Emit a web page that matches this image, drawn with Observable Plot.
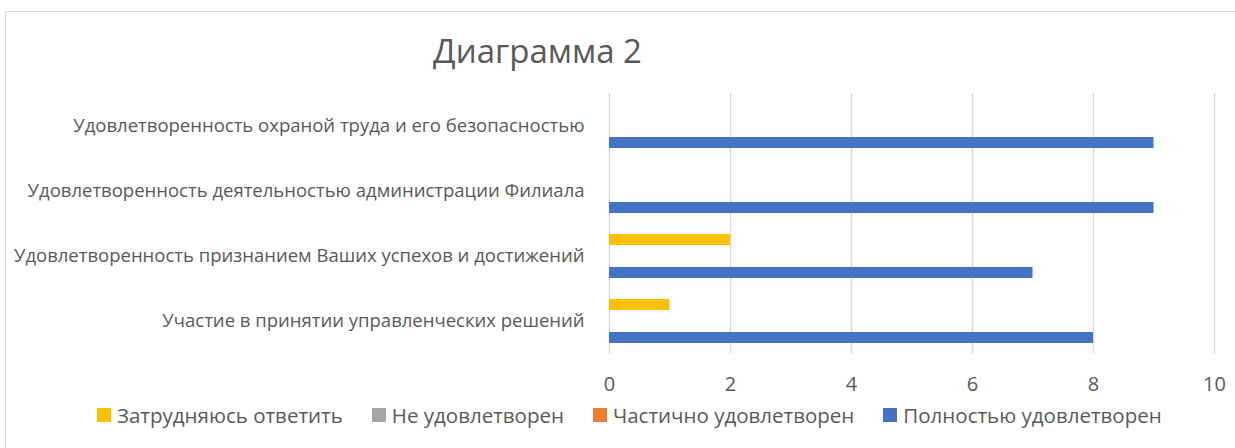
<!DOCTYPE html>
<html>
<head>
<meta charset="utf-8">
<script src="https://cdn.jsdelivr.net/npm/d3@7"></script>
<script src="https://cdn.jsdelivr.net/npm/@observablehq/plot@0.6"></script>
<style>
  html, body { margin: 0; padding: 0; background: #fff; }
  #wrap { position: relative; width: 1235px; height: 448px; overflow: hidden; font-family: "Open Sans", sans-serif; color: #595959; }
  #frame { position: absolute; left: 5px; top: 11px; width: 1250px; height: 460px; border: 1px solid #d9d9d9; box-sizing: border-box; }
  #title { position: absolute; left: 0; width: 1075px; top: 28px; text-align: center; font-size: 33px; line-height: 46px; color: #595959; }
  #chart { position: absolute; left: 0; top: 80px; }
  #legend { position: absolute; left: 97px; top: 400px; display: flex; align-items: center; font-size: 20.5px; line-height: 30px; color: #595959; white-space: nowrap; }
  .item { display: flex; align-items: center; margin-right: 29px; }
  .sw { width: 14px; height: 14px; margin-right: 6px; }
</style>
</head>
<body>
<div id="wrap">
  <div id="frame"></div>
  <div id="title">Диаграмма 2</div>
  <div id="chart"></div>
  <div id="legend"></div>
</div>
<script>
const categories = [
  "Удовлетворенность охраной труда и его безопасностью",
  "Удовлетворенность деятельностью администрации Филиала",
  "Удовлетворенность признанием Ваших успехов и достижений",
  "Участие в принятии управленческих решений"
];
const seriesNames = ["Затрудняюсь ответить", "Не удовлетворен", "Частично удовлетворен", "Полностью удовлетворен"];
const seriesColors = ["#FFC000", "#A5A5A5", "#ED7D31", "#4472C4"];
const hardToSay = [0, 0, 2, 1];
const notSatisfied = [0, 0, 0, 0];
const partlySatisfied = [0, 0, 0, 0];
const fullySatisfied = [9, 9, 7, 8];
const xTicks = [0, 2, 4, 6, 8, 10];

const seriesValues = [hardToSay, notSatisfied, partlySatisfied, fullySatisfied];
const data = [];
categories.forEach((c, i) => {
  seriesNames.forEach((s, j) => {
    data.push({category: c, series: s, value: seriesValues[j][i]});
  });
});

const chart = Plot.plot({
  width: 1235,
  height: 318,
  marginLeft: 609,
  marginRight: 21,
  marginTop: 13,
  marginBottom: 45,
  style: {fontFamily: "Open Sans, sans-serif", color: "#595959", background: "transparent"},
  x: {domain: [0, 10]},
  fy: {domain: categories, padding: 0},
  y: {domain: seriesNames, paddingInner: 0, paddingOuter: 0.9},
  color: {domain: seriesNames, range: seriesColors},
  marks: [
    Plot.gridX(xTicks, {stroke: "#d9d9d9", strokeOpacity: 1, strokeWidth: 1.5}),
    Plot.barX(data, {x: "value", y: "series", fy: "category", fill: "series", inset: 0}),
    Plot.axisY({ticks: [], label: null}),
    Plot.axisX({ticks: xTicks, tickSize: 0, tickPadding: 23, fontSize: 20, fill: "#595959", label: null}),
    Plot.axisFy({anchor: "left", tickSize: 0, tickPadding: 25, fontSize: 18.5, fill: "#595959", label: null})
  ]
});
document.getElementById("chart").appendChild(chart);

const legend = document.getElementById("legend");
seriesNames.forEach((s, j) => {
  const item = document.createElement("div");
  item.className = "item";
  const sw = document.createElement("span");
  sw.className = "sw";
  sw.style.background = seriesColors[j];
  const t = document.createElement("span");
  t.textContent = s;
  item.appendChild(sw);
  item.appendChild(t);
  legend.appendChild(item);
});
</script>
</body>
</html>
